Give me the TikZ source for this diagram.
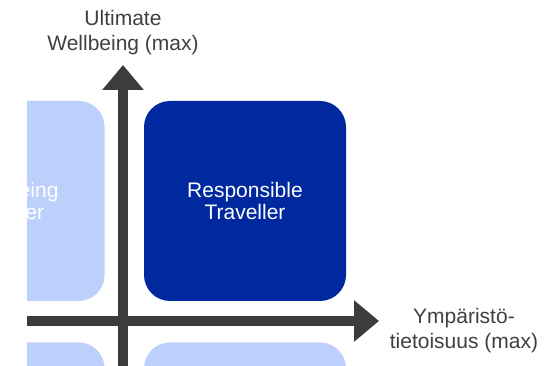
\documentclass[tikz,border=0pt]{standalone}
\usepackage{fontspec}
\setmainfont{Liberation Sans}
\usepackage{tikz}
\usetikzlibrary{positioning, arrows.meta}
\definecolor{darkblue}{RGB}{0,41,160}
\definecolor{lightblue}{RGB}{189,208,251}
\definecolor{axisgrey}{RGB}{60,60,60}
\definecolor{labelgrey}{RGB}{64,64,64}
\tikzstyle{quadbox} = [rectangle, rounded corners=26pt, minimum width=202pt, minimum height=200pt, inner sep=0pt, text=white, align=center, font=\fontsize{21}{21}\selectfont]
\tikzstyle{darkbox} = [quadbox, fill=darkblue]
\tikzstyle{lightbox} = [quadbox, fill=lightblue]
\tikzstyle{axis} = [axisgrey, line width=10pt, -{Triangle[length=25pt, width=40pt]}]
\tikzstyle{axislabel} = [text=labelgrey, align=center, inner sep=0pt, font=\fontsize{21}{25}\selectfont]

\begin{document}
\begin{tikzpicture}[x=1pt, y=1pt]
  \useasboundingbox (0,0) rectangle (544,366);
  \clip (27,0) rectangle (544,366);

  % quadrants
  \node (tr) [darkbox] at (245,165) {Responsible\\Traveller};
  \node (tl) [lightbox, left=39pt of tr] {Sightseeing\\Traveller};
  \node (br) [lightbox, below=41pt of tr] {};
  \node (bl) [lightbox, below=41pt of tl] {};

  % axes
  \coordinate (yfoot) at (123,0);
  \coordinate (ytip) at (123,301);
  \coordinate (xfoot) at (0,45);
  \coordinate (xtip) at (379,45);
  \draw [axis] (xfoot) -- (xtip);
  \draw [axis] (yfoot) -- (ytip);

  \node (ylabel) [axislabel, anchor=north] at (123,356) {Ultimate\\Wellbeing (max)};
  \node (xlabel) [axislabel, anchor=north] at (464,58) {Ympäristö-\\tietoisuus (max)};
\end{tikzpicture}
\end{document}
